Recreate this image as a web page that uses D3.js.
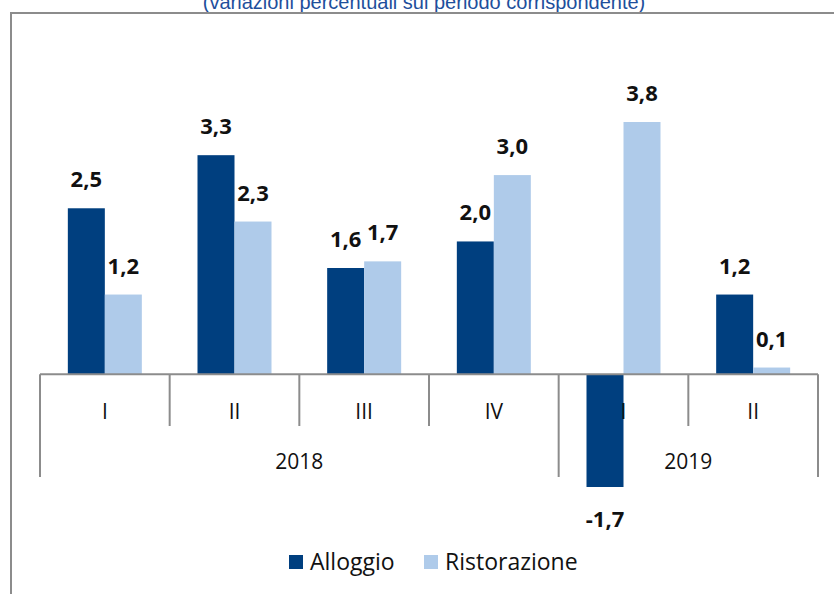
<!DOCTYPE html>
<html>
<head>
<meta charset="utf-8">
<script src="https://cdn.jsdelivr.net/npm/d3@7"></script>
<style>
  body { margin: 0; background: #fff; }
  svg { display: block; }
</style>
</head>
<body>
<div id="chart"></div>
<script>
// dati
const quarters = ['I', 'II', 'III', 'IV', 'I', 'II'];
const years = [{ label: '2018', from: 0, to: 4 }, { label: '2019', from: 4, to: 6 }];
const alloggio = [2.5, 3.3, 1.6, 2.0, -1.7, 1.2];
const ristorazione = [1.2, 2.3, 1.7, 3.0, 3.8, 0.1];
const seriesNames = ['Alloggio', 'Ristorazione'];
const colors = ['#003f7f', '#afcbea'];

const width = 834, height = 594;
const svg = d3.select('#chart').append('svg')
  .attr('width', width)
  .attr('height', height);

// sottotitolo (tagliato in alto come nell'originale)
svg.append('text')
  .attr('x', 424).attr('y', 9)
  .attr('text-anchor', 'middle')
  .style('font-family', 'Liberation Sans, Arial, sans-serif')
  .style('font-size', '20px')
  .attr('fill', '#1e4f9c')
  .text('(variazioni percentuali sul periodo corrispondente)');

// cornice
svg.append('rect')
  .attr('x', 11).attr('y', 13)
  .attr('width', 840).attr('height', 600)
  .attr('fill', 'none')
  .attr('stroke', '#8c8c8c')
  .attr('stroke-width', 2);

const x0 = d3.scaleBand().domain(d3.range(quarters.length)).range([40, 818]);
const x1 = d3.scaleBand().domain(seriesNames).range([0, 74]);
const y = d3.scaleLinear().domain([-1.7, 3.8]).range([487, 122]);
const zeroY = y(0);

const data = quarters.map((q, i) => ({ i, values: [alloggio[i], ristorazione[i]] }));

const groups = svg.selectAll('.grp').data(data).join('g')
  .attr('class', 'grp')
  .attr('transform', d => `translate(${x0(d.i) + (x0.bandwidth() - 74) / 2},0)`);

groups.selectAll('rect').data(d => d.values.map((v, k) => ({ v, k }))).join('rect')
  .attr('x', d => x1(seriesNames[d.k]))
  .attr('width', x1.bandwidth())
  .attr('y', d => Math.min(y(d.v), zeroY))
  .attr('height', d => Math.abs(y(d.v) - zeroY))
  .attr('fill', d => colors[d.k]);

groups.selectAll('text').data(d => d.values.map((v, k) => ({ v, k }))).join('text')
  .attr('x', d => x1(seriesNames[d.k]) + x1.bandwidth() / 2)
  .attr('y', d => d.v >= 0 ? y(d.v) - 21 : y(d.v) + 40)
  .attr('text-anchor', 'middle')
  .style('font-family', 'Open Sans, sans-serif')
  .style('font-weight', 'bold')
  .style('font-size', '22px')
  .attr('fill', '#111')
  .text(d => d3.format('.1f')(d.v).replace('.', ',').replace('−', '-'));

// asse categorie
const axisColor = '#8c8c8c';
const axis = svg.append('g').attr('stroke', axisColor).attr('stroke-width', 2);
axis.append('line').attr('x1', 40).attr('x2', 818).attr('y1', zeroY).attr('y2', zeroY);

d3.range(quarters.length + 1).forEach(i => {
  const xx = i < quarters.length ? x0(i) : x0.range()[1];
  const isYear = years.some(yr => yr.from === i || yr.to === i);
  axis.append('line')
    .attr('x1', xx).attr('x2', xx)
    .attr('y1', zeroY).attr('y2', isYear ? 477 : 426);
});

svg.selectAll('.qlab').data(quarters).join('text')
  .attr('class', 'qlab')
  .attr('x', (d, i) => x0(i) + x0.bandwidth() / 2)
  .attr('y', 419)
  .attr('text-anchor', 'middle')
  .style('font-family', 'Open Sans, sans-serif')
  .style('font-size', '21px')
  .attr('fill', '#111')
  .text(d => d);

svg.selectAll('.ylab').data(years).join('text')
  .attr('class', 'ylab')
  .attr('x', d => (x0(d.from) + (d.to < quarters.length ? x0(d.to) : x0.range()[1])) / 2)
  .attr('y', 469)
  .attr('text-anchor', 'middle')
  .style('font-family', 'Open Sans, sans-serif')
  .style('font-size', '21px')
  .attr('fill', '#111')
  .text(d => d.label);

// legenda
const legendX = [289, 424];
const legend = svg.selectAll('.leg').data(seriesNames).join('g')
  .attr('class', 'leg')
  .attr('transform', (d, i) => `translate(${legendX[i]},555)`);
legend.append('rect').attr('width', 14).attr('height', 14).attr('fill', (d, i) => colors[i]);
legend.append('text')
  .attr('x', 21).attr('y', 15)
  .style('font-family', 'Open Sans, sans-serif')
  .style('font-size', '23px')
  .attr('fill', '#111')
  .text(d => d);
</script>
</body>
</html>
